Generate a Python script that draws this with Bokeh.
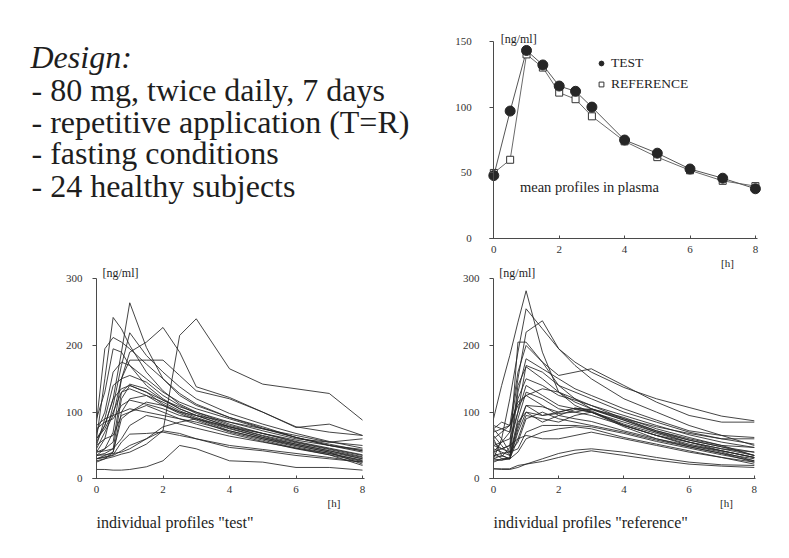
from bokeh.plotting import figure
from bokeh.models import (Range1d, Label, Legend, LegendItem, FixedTicker, LinearAxis)
from bokeh.embed import file_html
from bokeh.resources import INLINE

# ---------------- data ----------------
design_lines = ["Design:",
                "- 80 mg, twice daily, 7 days",
                "- repetitive application (T=R)",
                "- fasting conditions",
                "- 24 healthy subjects"]

hours_mean = [0, 0.5, 1, 1.5, 2, 2.5, 3, 4, 5, 6, 7, 8]
test_mean = [48, 97, 143, 132, 116, 112, 100, 75, 65, 53, 46, 38]
ref_mean = [50, 60, 140, 130, 111, 106, 93, 74, 62, 52, 44, 40]

hours_ind = [0, 0.25, 0.5, 0.75, 1, 1.5, 2, 2.5, 3, 4, 5, 6, 7, 8]
test_subjects = [
    [30, 32, 35, 42, 50, 60, 72, 215, 240, 165, 142, 135, 128, 88],
    [55, 80, 120, 190, 264, 197, 150, 125, 110, 92, 78, 62, 50, 40],
    [60, 150, 242, 225, 200, 160, 132, 112, 100, 82, 68, 55, 45, 35],
    [85, 195, 212, 205, 195, 172, 150, 128, 112, 92, 76, 62, 50, 42],
    [40, 60, 110, 170, 219, 185, 160, 138, 120, 98, 82, 68, 56, 46],
    [35, 45, 70, 150, 190, 205, 227, 190, 138, 122, 100, 77, 82, 65],
    [45, 70, 95, 150, 178, 178, 178, 155, 132, 120, 100, 78, 70, 65],
    [70, 100, 160, 175, 170, 150, 130, 115, 105, 90, 75, 62, 52, 42],
    [50, 90, 140, 150, 155, 145, 125, 110, 98, 80, 68, 56, 46, 36],
    [90, 130, 195, 190, 170, 140, 120, 105, 95, 78, 65, 54, 44, 33],
    [40, 45, 55, 130, 142, 135, 118, 105, 95, 78, 64, 52, 42, 30],
    [35, 38, 45, 120, 140, 130, 112, 100, 90, 72, 60, 48, 38, 28],
    [60, 75, 100, 130, 135, 125, 110, 98, 88, 70, 58, 46, 36, 26],
    [30, 35, 40, 100, 120, 125, 115, 102, 92, 76, 62, 52, 42, 32],
    [75, 85, 90, 110, 118, 112, 105, 95, 90, 78, 68, 58, 50, 44],
    [50, 60, 65, 95, 100, 115, 110, 100, 95, 85, 75, 65, 55, 50],
    [80, 90, 95, 100, 105, 100, 95, 90, 85, 72, 60, 50, 40, 30],
    [40, 42, 45, 60, 80, 95, 90, 82, 76, 64, 55, 46, 38, 27],
    [30, 33, 36, 55, 67, 68, 70, 65, 60, 50, 44, 38, 32, 25],
    [27, 30, 33, 37, 40, 52, 72, 68, 60, 47, 42, 35, 30, 25],
    [35, 36, 38, 40, 45, 60, 78, 85, 90, 75, 62, 50, 40, 22],
    [14, 14, 13, 13, 14, 18, 27, 50, 45, 27, 25, 17, 17, 13],
    [25, 30, 40, 90, 100, 110, 100, 90, 82, 68, 56, 45, 36, 20],
    [60, 80, 120, 135, 140, 130, 118, 108, 100, 85, 72, 60, 55, 60],
]
ref_subjects = [
    [90, 140, 185, 235, 282, 190, 130, 110, 100, 80, 65, 55, 45, 35],
    [30, 60, 120, 190, 255, 225, 195, 170, 150, 120, 100, 80, 65, 50],
    [40, 55, 70, 150, 220, 237, 195, 175, 160, 137, 120, 107, 94, 87],
    [35, 33, 47, 205, 205, 175, 155, 160, 165, 140, 115, 95, 85, 85],
    [60, 70, 80, 160, 200, 175, 140, 130, 120, 100, 85, 70, 60, 52],
    [75, 60, 40, 140, 168, 150, 130, 115, 105, 90, 78, 68, 60, 60],
    [80, 75, 70, 120, 150, 140, 125, 118, 110, 95, 80, 66, 55, 47],
    [55, 45, 50, 100, 140, 125, 110, 105, 100, 85, 70, 58, 48, 40],
    [45, 40, 35, 90, 130, 120, 105, 100, 105, 92, 75, 62, 50, 35],
    [30, 35, 30, 75, 110, 108, 100, 106, 104, 88, 70, 55, 42, 32],
    [65, 50, 35, 80, 110, 95, 100, 106, 102, 80, 65, 50, 40, 27],
    [40, 30, 30, 70, 100, 85, 95, 104, 100, 78, 60, 48, 38, 25],
    [25, 30, 30, 60, 95, 90, 85, 95, 100, 82, 68, 55, 45, 40],
    [50, 45, 40, 55, 90, 100, 90, 85, 80, 70, 58, 48, 38, 30],
    [35, 38, 40, 45, 70, 80, 80, 80, 78, 68, 56, 46, 36, 27],
    [28, 28, 30, 40, 60, 70, 75, 78, 75, 62, 52, 42, 32, 22],
    [15, 15, 15, 20, 22, 26, 32, 38, 42, 35, 28, 22, 19, 17],
    [15, 14, 14, 17, 22, 30, 38, 43, 45, 40, 32, 25, 21, 20],
    [70, 75, 80, 115, 125, 110, 95, 90, 86, 72, 60, 50, 42, 32],
    [30, 28, 32, 130, 180, 165, 150, 135, 125, 105, 88, 72, 65, 62],
    [50, 55, 60, 100, 170, 160, 140, 120, 105, 88, 72, 60, 50, 47],
    [60, 35, 30, 85, 100, 95, 98, 100, 95, 80, 65, 52, 42, 32],
    [40, 45, 50, 60, 65, 60, 60, 65, 70, 60, 50, 40, 32, 25],
    [75, 85, 80, 110, 125, 135, 130, 120, 110, 90, 72, 58, 48, 35],
]

x_ticks = [0, 2, 4, 6, 8]
y_ticks_mean = [0, 50, 100, 150]
y_ticks_ind = [0, 100, 200, 300]

# ---------------- style / layout constants ----------------
W, H = 789, 558
SERIF = "Liberation Serif"
INK = "#1e1e1e"
AXIS = "#4a4a4a"

p = figure(width=W, height=H, x_range=Range1d(0, W), y_range=Range1d(H, 0),
           x_axis_type=None, y_axis_type=None, min_border=0,
           toolbar_location=None, output_backend="svg")
p.outline_line_color = None
p.background_fill_color = "white"
p.border_fill_color = "white"

# each panel: pixel of x=0, px per hour, pixel of y=0, px per ng/ml
panels = {
    "mean": (493.3, 32.7, 238.3, 1.317),
    "test": (96.0, 33.25, 478.3, 0.6667),
    "ref": (493.0, 32.6, 478.3, 0.6667),
}
xr, yr = {}, {}
for name, (x0, sx, y0, sy) in panels.items():
    xr[name + "_x"] = Range1d(-x0 / sx, (W - x0) / sx)
    yr[name + "_y"] = Range1d((y0 - H) / sy, y0 / sy)
p.extra_x_ranges = xr
p.extra_y_ranges = yr


def add_axes(name, yticks, ymax, y_standoff):
    kw = dict(x_range_name=name + "_x", y_range_name=name + "_y", fixed_location=0)
    xa = LinearAxis(ticker=FixedTicker(ticks=x_ticks), bounds=(-0.12, 8.05), **kw)
    ya = LinearAxis(ticker=FixedTicker(ticks=yticks), bounds=(0, ymax), **kw)
    for ax in (xa, ya):
        ax.axis_line_color = AXIS
        ax.axis_line_width = 1
        ax.major_tick_line_color = AXIS
        ax.minor_tick_line_color = None
        ax.major_label_text_font = SERIF
        ax.major_label_text_font_size = "11px"
        ax.major_label_text_color = "#333333"
    xa.major_tick_in = 3
    xa.major_tick_out = 0
    xa.major_label_standoff = 7
    ya.major_tick_in = 0
    ya.major_tick_out = 4
    ya.major_label_standoff = y_standoff
    p.add_layout(xa, "below")
    p.add_layout(ya, "left")


def add_text(x, y, text, size, panel=None, italic=False, baseline="middle"):
    kw = {}
    if panel is not None:
        kw = dict(x_range_name=panel + "_x", y_range_name=panel + "_y")
    p.add_layout(Label(x=x, y=y, text=text, text_font=SERIF,
                       text_font_size=size, text_color=INK,
                       text_font_style="italic" if italic else "normal",
                       text_align="left", text_baseline=baseline, **kw))


# ---------------- design text (top left) ----------------
baselines = [56, 89, 121, 152, 185]
for i, line in enumerate(design_lines):
    add_text(30 if i == 0 else 31, baselines[i], line, "32px",
             italic=(i == 0), baseline="alphabetic")

# ---------------- mean profiles (top right) ----------------
add_axes("mean", y_ticks_mean, 150, 18)
mk = dict(x_range_name="mean_x", y_range_name="mean_y")
p.line(hours_mean, ref_mean, line_color="#6a6a6a", line_width=1, **mk)
p.line(hours_mean, test_mean, line_color="#555555", line_width=1, **mk)
r_ref = p.scatter(hours_mean, ref_mean, marker="square", size=7,
                  fill_color="white", line_color="#333333", line_width=1, **mk)
r_test = p.scatter(hours_mean, test_mean, marker="circle", size=10,
                   fill_color="#262626", line_color="#262626", **mk)

legend = Legend(items=[LegendItem(label="TEST", renderers=[r_test]),
                       LegendItem(label="REFERENCE", renderers=[r_ref])],
                location=(595, H - 94), padding=0, spacing=1, margin=0,
                glyph_width=12, glyph_height=12, label_height=20, label_standoff=4,
                label_text_font=SERIF, label_text_font_size="13.5px",
                label_text_color=INK, border_line_color=None,
                background_fill_alpha=0)
p.add_layout(legend)

add_text(0.21, 152, "[ng/ml]", "12px", panel="mean")
add_text(0.8, 39, "mean profiles in plasma", "14.5px", panel="mean")
add_text(6.95, -18, "[h]", "11px", panel="mean")

# ---------------- individual profiles (bottom) ----------------
for name, subjects, caption in (("test", test_subjects, 'individual profiles "test"'),
                                ("ref", ref_subjects, 'individual profiles "reference"')):
    add_axes(name, y_ticks_ind, 300, 10)
    p.multi_line([hours_ind] * len(subjects), subjects, line_color="#262626",
                 line_width=0.95, line_alpha=0.9,
                 x_range_name=name + "_x", y_range_name=name + "_y")
    add_text(0.18, 309, "[ng/ml]", "12px", panel=name)
    add_text(6.95, -36, "[h]", "11px", panel=name)
    add_text(0.0, -66, caption, "16px", panel=name)

open("out.html", "w").write(file_html(p, INLINE))
